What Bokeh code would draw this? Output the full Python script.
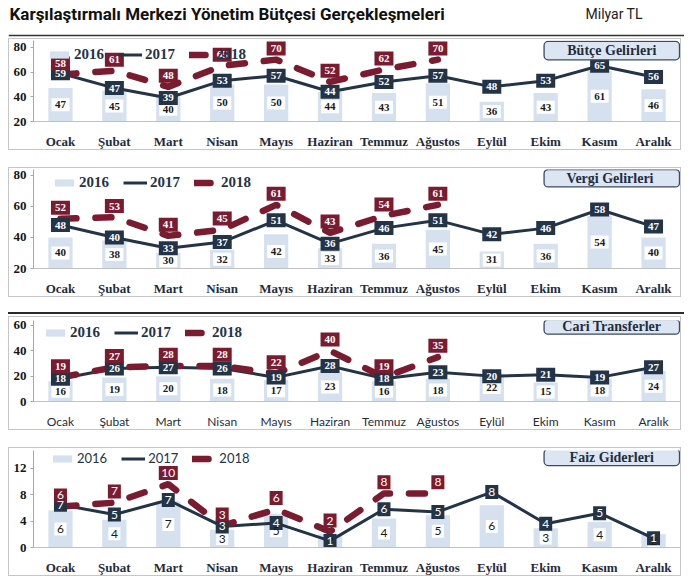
from bokeh.plotting import figure
from bokeh.models import Range1d, FactorRange, Legend, LegendItem, Spacer, FixedTicker, Span
from bokeh.layouts import column
from bokeh.embed import file_html
from bokeh.resources import INLINE
from bokeh.core.properties import value

MONTHS = ["Ocak", "Şubat", "Mart", "Nisan", "Mayıs", "Haziran",
          "Temmuz", "Ağustos", "Eylül", "Ekim", "Kasım", "Aralık"]
YEARS = ["2016", "2017", "2018"]

BUTCE_2016 = [47, 45, 40, 50, 50, 44, 43, 51, 36, 43, 61, 46]
BUTCE_2017 = [59, 47, 39, 53, 57, 44, 52, 57, 48, 53, 65, 56]
BUTCE_2018 = [58, 61, 48, 65, 70, 52, 62, 70]

VERGI_2016 = [40, 38, 30, 32, 42, 33, 36, 45, 31, 36, 54, 40]
VERGI_2017 = [48, 40, 33, 37, 51, 36, 46, 51, 42, 46, 58, 47]
VERGI_2018 = [52, 53, 41, 45, 61, 43, 54, 61]

CARI_2016 = [16, 19, 20, 18, 17, 23, 16, 18, 22, 15, 18, 24]
CARI_2017 = [18, 26, 27, 26, 19, 28, 18, 23, 20, 21, 19, 27]
CARI_2018 = [19, 27, 28, 28, 22, 40, 19, 35]

FAIZ_2016 = [5.6, 4.2, 7.0, 2.7, 5.1, 2.0, 4.4, 4.9, 6.4, 2.9, 3.9, 2.0]
FAIZ_2017 = [6.5, 5.0, 7.2, 3.2, 3.7, 1.0, 5.8, 5.4, 8.4, 3.6, 5.2, 1.4]
FAIZ_2018 = [6.2, 6.8, 9.6, 3.3, 5.8, 2.4, 8.2, 8.2]

TITLE = "Karşılaştırmalı Merkezi Yönetim Bütçesi Gerçekleşmeleri"
UNIT = "Milyar TL"
PANEL_TITLES = ["Bütçe Gelirleri", "Vergi  Gelirleri", "Cari Transferler", "Faiz Giderleri"]

SERIF = "Liberation Serif"
SANS = "Lato"
C16 = "#d6e1ef"
C17 = "#243447"
C18 = "#7b1b2f"
FULL_W = 676
PANEL_W = 671          # inner (canvas) width; 1px CSS border is added around it
FRAME_L = 24
FRAME_R = 2
FRAME_W = PANEL_W - FRAME_L - FRAME_R


def fmt(v):
    return str(int(v + 0.5))


def make_panel(title, d16, d17, d18, y0, ppu, ticks, content_h, mb_top, mb_bottom,
               leg_x, leg_c, box_c, box_h, axis_font, axis_style, axis_size,
               lab_font, lab_style, lab_size, leg_font, leg_style, leg_size):
    frame_h = content_h - mb_top - mb_bottom
    y1 = y0 + frame_h / ppu
    cat_px = FRAME_W / 12.0
    p = figure(x_range=FactorRange(factors=MONTHS), y_range=Range1d(y0, y1),
               width=PANEL_W + 2, height=content_h + 2, output_backend="svg",
               toolbar_location=None, min_border_left=FRAME_L, min_border_right=FRAME_R,
               min_border_top=mb_top, min_border_bottom=mb_bottom)
    p.styles = {"border": "1px solid #c6c6c6"}
    p.outline_line_color = None
    p.grid.visible = False
    p.background_fill_color = "white"

    r16 = p.vbar(x=MONTHS, top=d16, bottom=y0, width=0.45, fill_color=C16, line_color=None)

    # 2016 labels (white boxes at bar mid)
    t16 = [fmt(v) for v in d16]
    y16 = [(y0 + v) / 2.0 for v in d16]
    p.rect(x=MONTHS, y=y16, width=[6 + 6 * len(t) for t in t16], height=13,
           width_units="screen", height_units="screen", fill_color="white", line_color=None)

    r17 = p.line(x=MONTHS, y=d17, line_color=C17, line_width=3)
    r18 = p.line(x=MONTHS[:len(d18)], y=d18, line_color=C18, line_width=6.5,
                 line_dash="16 19", line_cap="round")

    t17 = [fmt(v) for v in d17]
    p.rect(x=MONTHS, y=d17, width=[7 + 6 * len(t) for t in t17], height=14,
           width_units="screen", height_units="screen", fill_color=C17, line_color=None)
    t18 = [fmt(v) for v in d18]
    y18 = [v + 11.5 / ppu for v in d18]
    p.rect(x=MONTHS[:len(d18)], y=y18, width=[7 + 6 * len(t) for t in t18], height=14,
           width_units="screen", height_units="screen", fill_color=C18, line_color=None)

    common = dict(text_align="center", text_baseline="middle", text_font=value(lab_font),
                  text_font_style=lab_style, text_font_size=lab_size)
    p.text(x=MONTHS, y=y16, text=t16, text_color="#1a1a1a", **common)
    p.text(x=MONTHS, y=d17, text=t17, text_color="white", **common)
    p.text(x=MONTHS[:len(d18)], y=y18, text=t18, text_color="white", **common)

    # panel title box (top right), 135px wide, ending 1px before frame right
    b_right = 12 - 1.0 / cat_px
    b_left = 12 - 136.0 / cat_px
    b_mid = y1 - box_c / ppu
    b_top = b_mid + box_h / 2.0 / ppu
    b_bot = b_mid - box_h / 2.0 / ppu
    p.quad(left=[b_left], right=[b_right], top=[b_top], bottom=[b_bot],
           fill_color="#dce6f2", line_color="#3b4a5f", line_width=1.3, border_radius=4)
    p.text(x=[(b_left + b_right) / 2.0], y=[b_mid], text=[title], text_align="center",
           text_baseline="middle", text_font=value(SERIF), text_font_style="bold",
           text_font_size="14px", text_color="#1f2d40")

    legend = Legend(items=[LegendItem(label=YEARS[0], renderers=[r16]),
                           LegendItem(label=YEARS[1], renderers=[r17]),
                           LegendItem(label=YEARS[2], renderers=[r18])],
                    orientation="horizontal", location=(leg_x, frame_h - leg_c - 14),
                    glyph_width=24, glyph_height=9, label_height=14, label_standoff=3,
                    spacing=14, padding=0, margin=0, border_line_color=None,
                    background_fill_alpha=0, label_text_font=leg_font,
                    label_text_font_style=leg_style, label_text_font_size=leg_size,
                    label_text_color="#243447")
    p.add_layout(legend)

    p.yaxis.ticker = FixedTicker(ticks=ticks)
    p.yaxis.major_label_text_font = SERIF
    p.yaxis.major_label_text_font_style = "bold"
    p.yaxis.major_label_text_font_size = "13px"
    p.yaxis.major_label_text_color = "#151515"
    p.yaxis.axis_line_color = "#a8a8a8"
    p.yaxis.major_tick_line_color = "#a8a8a8"
    p.yaxis.major_tick_in = 0
    p.yaxis.major_tick_out = 3
    p.yaxis.minor_tick_line_color = None
    p.yaxis.major_label_standoff = 4

    p.xaxis.major_label_text_font = axis_font
    p.xaxis.major_label_text_font_style = axis_style
    p.xaxis.major_label_text_font_size = axis_size
    p.xaxis.major_label_text_color = "#1f2d3d"
    p.xaxis.axis_line_color = "#c0c0c0"
    p.xaxis.major_tick_line_color = None
    p.xaxis.minor_tick_line_color = None
    p.xaxis.major_label_standoff = 6
    return p


# header: page y 0..38, frame = whole canvas (not aligned with the panels)
hdr = figure(width=FULL_W, height=38, x_range=Range1d(0, FULL_W), y_range=Range1d(0, 38),
             x_axis_location=None, y_axis_location=None, min_border=0,
             min_border_left=0, min_border_right=0, min_border_top=0, min_border_bottom=0,
             toolbar_location=None, output_backend="svg")
hdr.frame_align = False
hdr.grid.visible = False
hdr.outline_line_color = None
hdr.text(x=[1], y=[25], text=[TITLE], text_baseline="middle", text_align="left",
         text_font=value("Roboto"), text_font_style="bold", text_font_size="17px",
         text_color="#111111")
hdr.text(x=[577], y=[25], text=[UNIT], text_baseline="middle", text_align="left",
         text_font=value("Roboto"), text_font_size="14px", text_color="#222222")
hdr.add_layout(Span(location=3, dimension="width", line_color="#333333", line_width=1.5))

p1 = make_panel(PANEL_TITLES[0], BUTCE_2016, BUTCE_2017, BUTCE_2018, 20, 77 / 60.0,
                [20, 40, 60, 80], 110, 1, 25, 14, 12, 10.5, 19,
                SERIF, "bold", "13px", SERIF, "bold", "11px", SERIF, "bold", "15px")
p2 = make_panel(PANEL_TITLES[1], VERGI_2016, VERGI_2017, VERGI_2018, 20, 1.6,
                [20, 40, 60, 80], 128, 1, 25, 19, 11, 9, 18,
                SERIF, "bold", "13px", SERIF, "bold", "11px", SERIF, "bold", "15px")
p3 = make_panel(PANEL_TITLES[2], CARI_2016, CARI_2017, CARI_2018, 0, 1.3,
                [0, 20, 40, 60], 112, 3, 26, 10, 9, 6.5, 15,
                SANS, "normal", "12px", SERIF, "bold", "11px", SERIF, "bold", "15px")
p4 = make_panel(PANEL_TITLES[3], FAIZ_2016, FAIZ_2017, FAIZ_2018, 0, 6.8,
                [0, 4, 8, 12], 127, 2, 25, 17, 5, 7, 17,
                SERIF, "bold", "13px", SANS, "normal", "12px", SANS, "normal", "13px")

rule = Spacer(width=FULL_W, height=17, styles={"border-bottom": "2.5px solid #2b2b2b"})

layout = column(hdr, p1, Spacer(height=17), p2, rule, Spacer(height=2),
                p3, Spacer(height=17), p4, margin=(0, 0, 0, 8))
open("out.html", "w").write(file_html(layout, INLINE))
